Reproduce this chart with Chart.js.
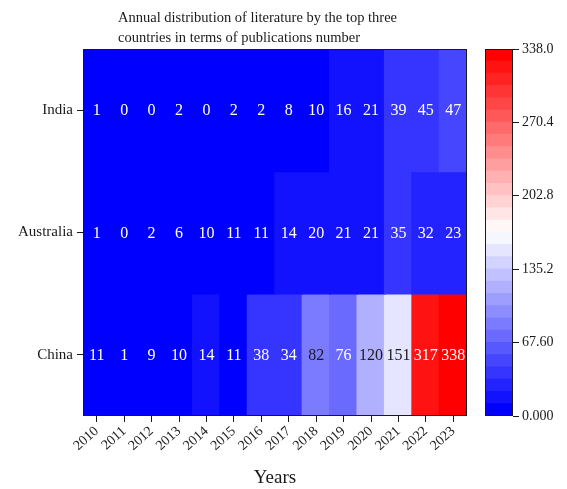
<!DOCTYPE html>
<html>
<head>
<meta charset="utf-8">
<script src="https://cdn.jsdelivr.net/npm/chart.js@4.4.0/dist/chart.umd.min.js"></script>
<style>
  body { margin: 0; background: #fff; }
  #wrap { position: relative; width: 567px; height: 489px; }
  canvas { position: absolute; top: 0; }
  #heat { left: 0; }
  #bar { left: 470px; }
</style>
</head>
<body>
<div id="wrap">
  <canvas id="heat" width="480" height="489"></canvas>
  <canvas id="bar" width="97" height="489"></canvas>
</div>
<script>
const years = ['2010','2011','2012','2013','2014','2015','2016','2017','2018','2019','2020','2021','2022','2023'];
const countries = ['India', 'Australia', 'China'];
const india = [1, 0, 0, 2, 0, 2, 2, 8, 10, 16, 21, 39, 45, 47];
const australia = [1, 0, 2, 6, 10, 11, 11, 14, 20, 21, 21, 35, 32, 23];
const china = [11, 1, 9, 10, 14, 11, 38, 34, 82, 76, 120, 151, 317, 338];
const colorMax = 338;
const colorLevels = 30;
const colorTicks = [0, 67.6, 135.2, 202.8, 270.4, 338.0];

const FONT = "'Liberation Serif', 'Times New Roman', serif";
const INK = '#1a1a1a';

// blue -> white -> red, split in discrete levels
function levelRGB(i) {
  const t = i / (colorLevels - 1);
  let r, g, b;
  if (t < 0.5) { r = g = Math.round(510 * t); b = 255; }
  else { r = 255; g = b = Math.round(510 * (1 - t)); }
  return [r, g, b];
}
function levelOf(v) {
  return Math.min(colorLevels - 1, Math.floor(v / (colorMax / colorLevels)));
}
const rgb = c => `rgb(${c[0]},${c[1]},${c[2]})`;

const rows = [india, australia, china];

const cellLabels = {
  id: 'cellLabels',
  afterDatasetsDraw(chart) {
    const ctx = chart.ctx;
    ctx.save();
    ctx.font = `16px ${FONT}`;
    ctx.textAlign = 'center';
    ctx.textBaseline = 'middle';
    chart.data.datasets.forEach((ds, di) => {
      chart.getDatasetMeta(di).data.forEach((el, i) => {
        const v = ds.values[i];
        const c = levelRGB(levelOf(v));
        ctx.fillStyle = Math.min(c[0], c[1], c[2]) > 115 ? INK : '#fff';
        ctx.fillText(String(v), el.x, (el.y + el.base) / 2 + 1);
      });
    });
    ctx.restore();
  }
};

const frame = {
  id: 'frame',
  afterDraw(chart) {
    const a = chart.chartArea, ctx = chart.ctx;
    ctx.save();
    ctx.strokeStyle = INK;
    ctx.lineWidth = 1;
    ctx.strokeRect(Math.round(a.left) + 0.5, Math.round(a.top) + 0.5,
                   Math.round(a.right - a.left) - 1, Math.round(a.bottom - a.top) - 1);
    ctx.restore();
  }
};

const titleLines = {
  id: 'titleLines',
  afterDraw(chart) {
    const ctx = chart.ctx;
    ctx.save();
    ctx.font = `14.5px ${FONT}`;
    ctx.fillStyle = INK;
    ctx.textAlign = 'left';
    ctx.textBaseline = 'alphabetic';
    ctx.fillText('Annual distribution of literature by the top three', 118, 22);
    ctx.fillText('countries in terms of publications number', 118, 42);
    ctx.restore();
  }
};

new Chart(document.getElementById('heat'), {
  type: 'bar',
  data: {
    labels: years,
    datasets: countries.map((c, r) => ({
      label: c,
      data: rows[r].map(() => [2 - r, 3 - r]),
      values: rows[r],
      backgroundColor: rows[r].map(v => rgb(levelRGB(levelOf(v)))),
      borderWidth: 0,
      inflateAmount: 0.8,
      barPercentage: 1,
      categoryPercentage: 1,
      grouped: false
    }))
  },
  options: {
    responsive: false,
    animation: false,
    layout: { padding: { top: 49, right: 13, left: 0, bottom: 0 } },
    plugins: { legend: { display: false }, tooltip: { enabled: false }, title: { display: false } },
    scales: {
      x: {
        grid: { display: true, drawOnChartArea: false, offset: false, color: INK, tickLength: 6 },
        border: { display: false },
        ticks: { color: INK, font: { family: FONT, size: 14 }, minRotation: 42, maxRotation: 42, autoSkip: false, padding: 1 },
        title: { display: true, text: 'Years', color: INK, font: { family: FONT, size: 19 }, padding: { top: 0, bottom: 0 } },
        afterFit: s => { s.height = 73; }
      },
      y: {
        min: 0, max: 3,
        afterBuildTicks: s => { s.ticks = [{ value: 0.5 }, { value: 1.5 }, { value: 2.5 }]; },
        ticks: {
          color: INK, font: { family: FONT, size: 15 }, padding: 4,
          callback: v => countries[2 - Math.floor(v)]
        },
        grid: { display: true, drawOnChartArea: false, color: INK, tickLength: 6 },
        border: { display: false },
        afterFit: s => { s.width = 83; }
      }
    }
  },
  plugins: [cellLabels, frame, titleLines]
});

// colour scale
const step = colorMax / colorLevels;
const levelIdx = Array.from({ length: colorLevels }, (_, i) => i);
new Chart(document.getElementById('bar'), {
  type: 'bar',
  data: {
    labels: [''],
    datasets: levelIdx.map(i => ({
      data: [[i * step, (i + 1) * step]],
      backgroundColor: rgb(levelRGB(i)),
      borderWidth: 0,
      inflateAmount: 0.6,
      barPercentage: 1,
      categoryPercentage: 1
    }))
  },
  options: {
    responsive: false,
    animation: false,
    layout: { padding: { top: 49, bottom: 73, left: 15, right: 0 } },
    plugins: { legend: { display: false }, tooltip: { enabled: false } },
    scales: {
      x: { display: false, stacked: true },
      y: {
        position: 'right',
        min: 0, max: colorMax,
        afterBuildTicks: s => { s.ticks = colorTicks.map(v => ({ value: v })); },
        ticks: { color: INK, font: { family: FONT, size: 14 }, padding: 3, callback: v => Number(v).toPrecision(4) },
        grid: { display: true, drawOnChartArea: false, color: INK, tickLength: 6 },
        border: { display: false },
        afterFit: s => { s.width = 54; }
      }
    }
  },
  plugins: [frame]
});
</script>
</body>
</html>
